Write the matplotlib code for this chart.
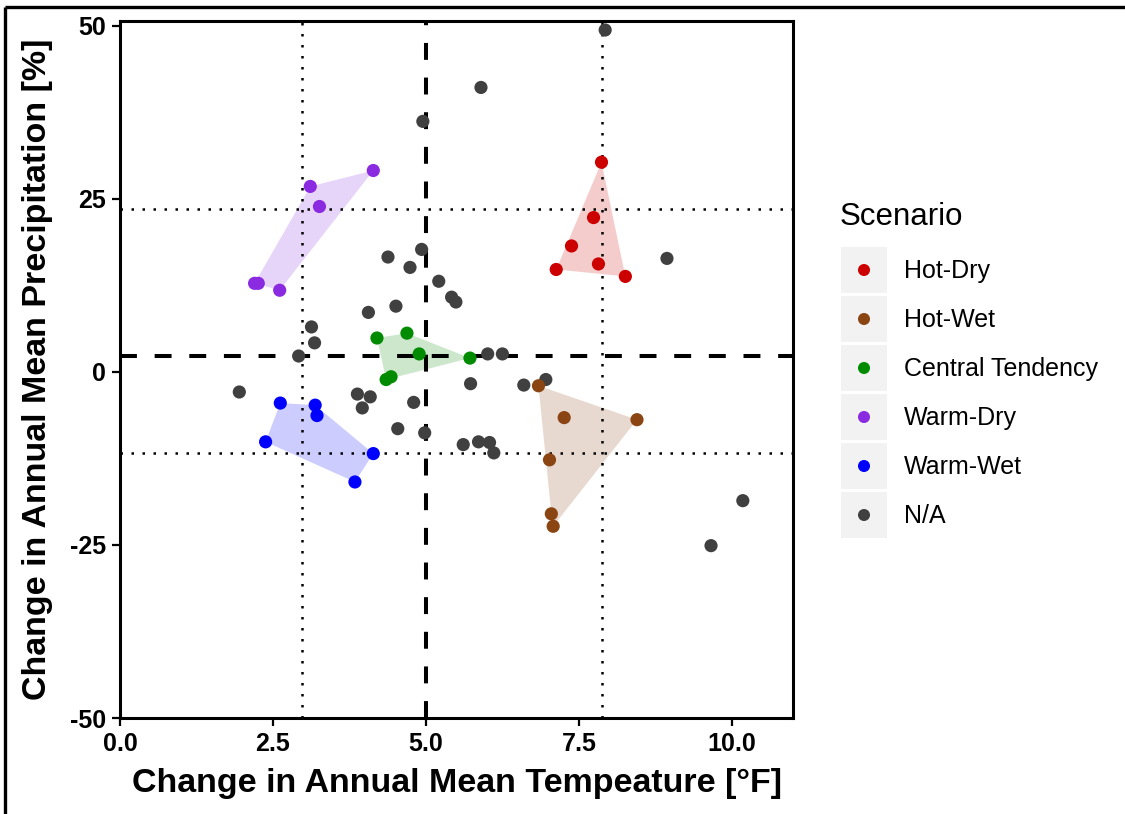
import matplotlib
matplotlib.use("Agg")
import matplotlib.pyplot as plt
import numpy as np
from matplotlib.patches import Polygon, Rectangle

plt.rcParams["font.family"] = ["Liberation Sans", "DejaVu Sans"]

# ---- data: change in annual mean temperature [°F] and precipitation [%] ----
scenarios = ["Hot-Dry", "Hot-Wet", "Central Tendency", "Warm-Dry", "Warm-Wet", "N/A"]
colors = {
    "Hot-Dry": "#CD0000",
    "Hot-Wet": "#8B4513",
    "Central Tendency": "#008B00",
    "Warm-Dry": "#8A2BE2",
    "Warm-Wet": "#0000FF",
    "N/A": "#404040",
}

hot_dry_t = [7.87, 7.74, 7.38, 7.13, 7.82, 8.26]
hot_dry_p = [30.3, 22.3, 18.2, 14.8, 15.6, 13.8]

hot_wet_t = [6.84, 7.26, 8.45, 7.02, 7.05, 7.08]
hot_wet_p = [-2.0, -6.6, -6.9, -12.7, -20.5, -22.3]

central_t = [4.20, 4.69, 4.89, 5.72, 4.35, 4.43]
central_p = [4.9, 5.6, 2.6, 2.0, -1.1, -0.7]

warm_dry_t = [4.14, 3.11, 3.26, 2.20, 2.26, 2.61]
warm_dry_p = [29.1, 26.8, 23.9, 12.8, 12.8, 11.8]

warm_wet_t = [2.62, 3.19, 3.22, 2.38, 4.14, 3.84]
warm_wet_p = [-4.5, -4.8, -6.3, -10.1, -11.8, -15.9]

other_t = [7.93, 5.90, 4.95, 4.93, 4.38, 4.74, 5.21, 5.42, 5.49, 4.51, 4.06,
           3.13, 3.18, 2.92, 6.01, 6.25, 1.95, 3.88, 4.09, 3.96, 4.80, 5.73,
           6.60, 6.96, 4.54, 4.98, 5.61, 5.86, 6.04, 6.11, 8.94, 10.18, 9.66]
other_p = [49.4, 41.1, 36.2, 17.7, 16.6, 15.1, 13.1, 10.8, 10.1, 9.5, 8.6,
           6.5, 4.2, 2.3, 2.6, 2.6, -2.9, -3.2, -3.6, -5.2, -4.4, -1.7,
           -1.9, -1.1, -8.2, -8.8, -10.5, -10.1, -10.2, -11.7, 16.4, -18.6, -25.1]

groups = {
    "Hot-Dry": (hot_dry_t, hot_dry_p),
    "Hot-Wet": (hot_wet_t, hot_wet_p),
    "Central Tendency": (central_t, central_p),
    "Warm-Dry": (warm_dry_t, warm_dry_p),
    "Warm-Wet": (warm_wet_t, warm_wet_p),
    "N/A": (other_t, other_p),
}

# ensemble reference lines
mean_t, mean_p = 5.0, 2.3
t_lo, t_hi = 2.97, 7.87
p_lo, p_hi = -11.7, 23.5

x_ticks = [0.0, 2.5, 5.0, 7.5, 10.0]
y_ticks = [-50, -25, 0, 25, 50]


def convex_hull(xs, ys):
    pts = sorted(set(zip(xs, ys)))
    if len(pts) < 3:
        return pts

    def cross(o, a, b):
        return (a[0] - o[0]) * (b[1] - o[1]) - (a[1] - o[1]) * (b[0] - o[0])

    lower, upper = [], []
    for p in pts:
        while len(lower) >= 2 and cross(lower[-2], lower[-1], p) <= 0:
            lower.pop()
        lower.append(p)
    for p in reversed(pts):
        while len(upper) >= 2 and cross(upper[-2], upper[-1], p) <= 0:
            upper.pop()
        upper.append(p)
    return lower[:-1] + upper[:-1]


W, H = 1125, 814
fig = plt.figure(figsize=(W / 100, H / 100), dpi=100)
fig.patch.set_facecolor("white")

ax_l, ax_r, ax_t, ax_b = 120, 793, 21, 718
ax = fig.add_axes([ax_l / W, 1 - ax_b / H, (ax_r - ax_l) / W, (ax_b - ax_t) / H])

# hulls for the named scenarios
for name in scenarios[:-1]:
    xs, ys = groups[name]
    hull = convex_hull(xs, ys)
    ax.add_patch(Polygon(hull, closed=True, facecolor=colors[name], alpha=0.2,
                         edgecolor="none", zorder=1))

# reference lines
dotted = (0, (1, 3.4))
ax.axvline(t_lo, color="black", lw=1.8, ls=dotted, zorder=2)
ax.axvline(t_hi, color="black", lw=1.8, ls=dotted, zorder=2)
ax.axhline(p_lo, color="black", lw=1.8, ls=dotted, zorder=2)
ax.axhline(p_hi, color="black", lw=1.8, ls=dotted, zorder=2)
dashed = (0, (4.2, 4.4))
ax.axvline(mean_t, color="black", lw=2.9, ls=dashed, zorder=2)
ax.axhline(mean_p, color="black", lw=2.9, ls=dashed, zorder=2)

# points
for name in ["N/A"] + scenarios[:-1]:
    xs, ys = groups[name]
    ax.scatter(xs, ys, s=90, color=colors[name], edgecolors="none", zorder=3)

ax.set_xlim(0, 11)
ax.set_ylim(-50, 50.7)
ax.set_xticks(x_ticks)
ax.set_xticklabels([f"{v:.1f}" for v in x_ticks])
ax.set_yticks(y_ticks)
ax.set_yticklabels([str(v) for v in y_ticks])
ax.tick_params(direction="out", length=6, width=1.6, color="black",
               labelsize=18, labelcolor="black", pad=4)
for lab in ax.get_xticklabels() + ax.get_yticklabels():
    lab.set_fontweight("bold")
for sp in ax.spines.values():
    sp.set_linewidth(2.2)
    sp.set_color("black")

ax.set_xlabel("Change in Annual Mean Tempeature [°F]", fontsize=24.5,
              fontweight="bold", labelpad=9)
ax.set_ylabel("Change in Annual Mean Precipitation [%]", fontsize=24.5,
              fontweight="bold", labelpad=12)

# legend drawn in pixel coordinates on an overlay axes
lg = fig.add_axes([0, 0, 1, 1], facecolor="none")
lg.set_xlim(0, W)
lg.set_ylim(H, 0)
lg.axis("off")
lg.text(840, 217, "Scenario", fontsize=22.5, va="center", ha="left")
for i, name in enumerate(scenarios):
    cy = 270 + 49 * i
    lg.add_patch(Rectangle((841, cy - 23), 46, 46, facecolor="#F2F2F2",
                           edgecolor="none"))
    lg.scatter([864], [cy], s=75, color=colors[name], edgecolors="none")
    lg.text(904, cy + 1, name, fontsize=18, va="center", ha="left")

# outer frame
lg.plot([5, 5], [7, H], color="black", lw=2.4, solid_capstyle="butt")
lg.plot([5, W], [7, 7], color="black", lw=2.4, solid_capstyle="butt")

fig.savefig("out.png", dpi=100, facecolor="white")
